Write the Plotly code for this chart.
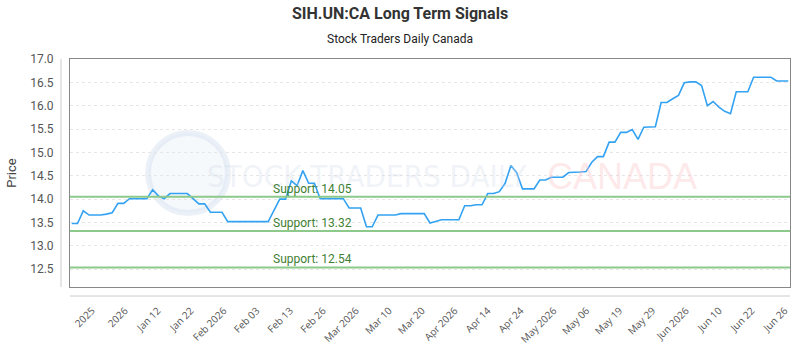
import plotly.graph_objects as go

# ---- data ----
prices = [
    13.48, 13.48, 13.75, 13.66, 13.66, 13.66, 13.68, 13.71, 13.91, 13.91,
    14.01, 14.01, 14.01, 14.01, 14.20, 14.07, 14.01, 14.12, 14.12, 14.12,
    14.12, 14.01, 13.90, 13.90, 13.72, 13.72, 13.72, 13.52, 13.52, 13.52,
    13.52, 13.52, 13.52, 13.52, 13.52, 13.76, 14.00, 14.00, 14.39, 14.29,
    14.61, 14.34, 14.34, 14.01, 14.01, 14.01, 14.01, 14.01, 13.81, 13.81,
    13.81, 13.41, 13.41, 13.66, 13.66, 13.66, 13.66, 13.69, 13.69, 13.69,
    13.69, 13.69, 13.49, 13.53, 13.56, 13.56, 13.56, 13.56, 13.86, 13.86,
    13.88, 13.88, 14.12, 14.12, 14.16, 14.34, 14.72, 14.57, 14.22, 14.22,
    14.22, 14.41, 14.41, 14.47, 14.47, 14.47, 14.57, 14.57, 14.58, 14.59,
    14.79, 14.91, 14.91, 15.22, 15.22, 15.43, 15.43, 15.49, 15.28, 15.54,
    15.54, 15.55, 16.07, 16.07, 16.15, 16.22, 16.49, 16.51, 16.51, 16.43,
    16.00, 16.09, 15.97, 15.88, 15.83, 16.30, 16.30, 16.30, 16.61, 16.61,
    16.61, 16.61, 16.53, 16.53, 16.53,
]
x_index = list(range(len(prices)))

tick_positions = [3.5, 9.2, 14.9, 20.6, 26.3, 32.0, 37.8, 43.5, 49.2, 54.9, 60.6,
                  66.3, 72.0, 77.7, 83.4, 89.1, 94.8, 100.5, 106.3, 112.0, 117.7, 123.4]
tick_labels = ["2025", "2026", "Jan 12", "Jan 22", "Feb 2026", "Feb 03", "Feb 13",
               "Feb 26", "Mar 2026", "Mar 10", "Mar 20", "Apr 2026", "Apr 14",
               "Apr 24", "May 2026", "May 06", "May 19", "May 29", "Jun 2026",
               "Jun 10", "Jun 22", "Jun 26"]

support_levels = [14.05, 13.32, 12.54]
support_labels = ["Support: 14.05", "Support: 13.32", "Support: 12.54"]

title_text = "SIH.UN:CA Long Term Signals"
subtitle_text = "Stock Traders Daily Canada"

# ---- figure ----
fig = go.Figure()

fig.add_trace(go.Scatter(
    x=x_index, y=prices, mode="lines",
    line=dict(color="#33a2f2", width=1.6),
    hoverinfo="skip", showlegend=False,
))

shapes = []
annotations = []

# watermark
shapes.append(dict(type="circle", xref="paper", yref="paper",
                   x0=(148 - 70) / 720, x1=(228 - 70) / 720,
                   y0=(287 - 213) / 228, y1=(287 - 133) / 228,
                   line=dict(color="rgba(200,215,235,0.35)", width=6),
                   fillcolor="rgba(215,228,242,0.22)", layer="below"))
annotations.append(dict(text="STOCK TRADERS DAILY", xref="paper", yref="paper",
                        x=(205 - 70) / 720, y=(287 - 176) / 228, xanchor="left", yanchor="middle",
                        showarrow=False,
                        font=dict(family="DejaVu Sans Condensed", size=31, color="rgba(205,215,228,0.3)")))
annotations.append(dict(text="CANADA", xref="paper", yref="paper",
                        x=(545 - 70) / 720, y=(287 - 176) / 228, xanchor="left", yanchor="middle",
                        showarrow=False,
                        font=dict(family="Liberation Sans", size=36, color="rgba(250,190,195,0.35)")))

for lvl, lab in zip(support_levels, support_labels):
    shapes.append(dict(type="line", xref="paper", yref="y", x0=0, x1=1, y0=lvl, y1=lvl,
                       line=dict(color="#8cc98a", width=2)))
    annotations.append(dict(text=lab, xref="paper", yref="y", x=(271 - 70) / 720, y=lvl,
                            xanchor="left", yanchor="bottom", showarrow=False, yshift=-1,
                            font=dict(family="Roboto", size=12, color="#3f7f34")))

# offset axis lines
shapes.append(dict(type="line", xref="paper", yref="paper", x0=0, x1=1,
                   y0=-9 / 228, y1=-9 / 228, line=dict(color="#cccccc", width=1)))
shapes.append(dict(type="line", xref="paper", yref="paper", x0=-9 / 720, x1=-9 / 720,
                   y0=0, y1=1, line=dict(color="#cccccc", width=1)))

annotations.append(dict(text="<b>" + title_text + "</b>", xref="paper", yref="paper",
                        x=(400 - 70) / 720, y=(287 - 14) / 228, xanchor="center", yanchor="middle",
                        showarrow=False, font=dict(family="Roboto", size=16, color="#333333")))
annotations.append(dict(text=subtitle_text, xref="paper", yref="paper",
                        x=(400 - 70) / 720, y=(287 - 39) / 228, xanchor="center", yanchor="middle",
                        showarrow=False, font=dict(family="Roboto", size=12, color="#222222")))

fig.update_layout(
    width=800, height=350,
    margin=dict(l=70, r=10, t=59, b=63, autoexpand=False),
    paper_bgcolor="white", plot_bgcolor="white",
    shapes=shapes, annotations=annotations,
    font=dict(family="Open Sans", color="#555555"),
    xaxis=dict(
        range=[-0.3, 124.3], tickmode="array", tickvals=tick_positions, ticktext=tick_labels,
        tickangle=-45, showgrid=False, zeroline=False, automargin=False,
        showline=True, mirror=True, linecolor="#888888", linewidth=1,
        ticks="outside", ticklen=13, tickcolor="rgba(0,0,0,0)",
        tickfont=dict(family="Open Sans", size=10, color="#555555"),
    ),
    yaxis=dict(
        range=[12.12, 17.0], tickmode="linear", tick0=12.5, dtick=0.5, tickformat=".1f",
        showgrid=True, gridcolor="#e6e6e6", griddash="dot", zeroline=False, automargin=False,
        showline=True, mirror=True, linecolor="#888888", linewidth=1,
        ticks="outside", ticklen=13, tickcolor="rgba(0,0,0,0)",
        tickfont=dict(family="Roboto", size=12, color="#555555"),
        title=dict(text="Price", font=dict(family="Roboto", size=13, color="#444444"), standoff=10),
    ),
)

fig.write_html("out.html")
